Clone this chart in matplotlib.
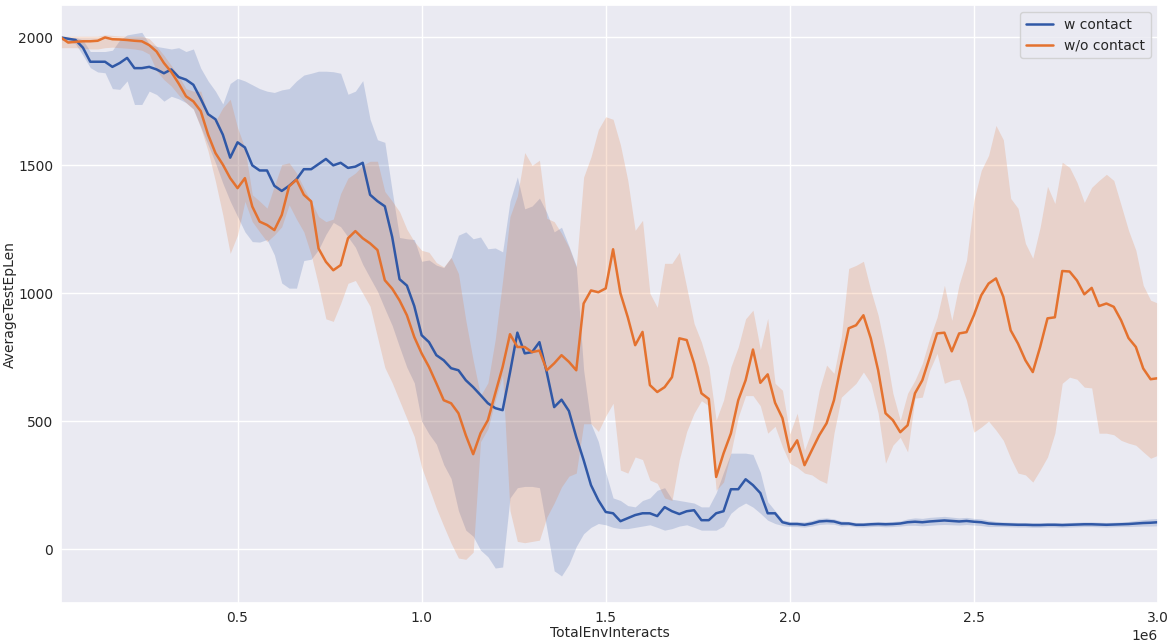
import matplotlib
matplotlib.use("Agg")
import matplotlib.pyplot as plt
import numpy as np
import seaborn as sns

# 150 evaluation epochs, 20k env steps each
epochs = np.arange(1, 151)
steps_per_epoch = 20000

w_mean = [2000, 1995, 1990, 1960, 1905, 1905, 1905, 1885, 1900, 1920,
          1880, 1880, 1885, 1875, 1860, 1875, 1845, 1835, 1815, 1760,
          1700, 1680, 1620, 1530, 1590, 1570, 1500, 1480, 1480, 1420,
          1400, 1420, 1445, 1485, 1485, 1505, 1525, 1500, 1510, 1490,
          1495, 1510, 1385, 1360, 1340, 1220, 1055, 1030, 950, 836,
          809, 758, 738, 707, 699, 660, 633, 602, 570, 551,
          543, 690, 846, 765, 770, 809, 690, 555, 584, 540,
          438, 348, 250, 191, 145, 140, 109, 121, 133, 140,
          140, 129, 164, 148, 137, 148, 152, 113, 113, 140,
          148, 234, 234, 273, 250, 219, 140, 140, 105, 98,
          98, 95, 100, 108, 110, 108, 100, 100, 95, 95,
          97, 98, 97, 98, 100, 105, 107, 105, 108, 110,
          112, 110, 108, 110, 107, 105, 100, 98, 97, 96,
          95, 95, 94, 94, 95, 95, 94, 95, 96, 97,
          97, 96, 95, 96, 97, 98, 100, 102, 103, 105]
w_upper = [2000, 2000, 2000, 1990, 1945, 1945, 1945, 1950, 1990, 2010,
           2015, 2020, 1975, 1965, 1960, 1955, 1960, 1945, 1955, 1880,
           1830, 1790, 1740, 1820, 1840, 1830, 1815, 1800, 1790, 1785,
           1795, 1800, 1830, 1853, 1860, 1868, 1868, 1866, 1860, 1778,
           1790, 1831, 1680, 1600, 1590, 1400, 1218, 1213, 1210, 1125,
           1130, 1110, 1100, 1140, 1227, 1240, 1213, 1220, 1174, 1177,
           1162, 1360, 1455, 1330, 1341, 1372, 1315, 1240, 1258, 1185,
           1107, 700, 490, 420, 300, 200, 190, 170, 165, 190,
           200, 230, 240, 195, 190, 185, 180, 165, 165, 220,
           300, 375, 375, 375, 370, 300, 185, 150, 115, 108,
           108, 106, 112, 120, 122, 118, 110, 108, 104, 104,
           106, 108, 107, 108, 110, 118, 122, 120, 124, 126,
           128, 125, 122, 124, 120, 118, 112, 108, 106, 105,
           104, 104, 103, 103, 104, 104, 103, 104, 105, 106,
           106, 105, 104, 105, 106, 108, 112, 115, 118, 120]
w_lower = [1990, 1985, 1975, 1930, 1882, 1865, 1862, 1800, 1797, 1830,
           1738, 1738, 1790, 1777, 1751, 1770, 1760, 1745, 1720, 1650,
           1580, 1510, 1430, 1360, 1300, 1240, 1202, 1200, 1210, 1150,
           1040, 1020, 1020, 1128, 1133, 1171, 1230, 1277, 1260, 1220,
           1180, 1113, 1060, 1008, 940, 874, 790, 710, 650, 500,
           450, 410, 330, 276, 150, 74, 50, -4, -30, -74,
           -70, 200, 240, 245, 245, 240, 80, -85, -105, -60,
           10, 60, 85, 100, 95, 85, 80, 80, 85, 90,
           95, 85, 74, 80, 90, 95, 85, 74, 74, 74,
           90, 140, 164, 180, 164, 140, 113, 100, 92, 88,
           88, 86, 90, 96, 98, 97, 90, 92, 87, 86,
           88, 89, 87, 88, 90, 93, 93, 91, 93, 95,
           96, 95, 94, 96, 94, 92, 88, 88, 88, 87,
           86, 86, 85, 85, 86, 86, 85, 86, 87, 88,
           88, 87, 86, 87, 88, 88, 89, 90, 90, 91]

wo_mean = [2000, 1980, 1983, 1985, 1985, 1987, 2000, 1993, 1992, 1990,
           1987, 1985, 1970, 1945, 1900, 1865, 1820, 1770, 1750, 1712,
           1620, 1548, 1503, 1450, 1411, 1450, 1339, 1280, 1267, 1247,
           1306, 1418, 1444, 1385, 1359, 1175, 1123, 1090, 1110, 1215,
           1243, 1215, 1195, 1169, 1051, 1018, 972, 914, 829, 765,
           712, 648, 582, 570, 531, 445, 371, 453, 504, 609,
           712, 840, 790, 790, 770, 776, 699, 726, 758, 732,
           699, 960, 1011, 1004, 1019, 1172, 1000, 906, 797, 849,
           641, 614, 633, 672, 824, 817, 726, 609, 587, 282,
           374, 452, 582, 660, 780, 650, 683, 572, 512, 380,
           425, 328, 387, 445, 492, 582, 726, 863, 875, 914,
           824, 699, 531, 504, 457, 484, 609, 660, 750, 843,
           846, 773, 843, 848, 914, 992, 1038, 1058, 986, 855,
           803, 738, 692, 790, 902, 906, 1087, 1085, 1050, 996,
           1021, 950, 960, 947, 894, 825, 790, 706, 664, 668]
wo_upper = [2005, 2005, 2005, 2005, 2005, 2005, 2010, 2008, 2006, 2005,
            2005, 2005, 1995, 1965, 1930, 1890, 1850, 1800, 1790, 1790,
            1700, 1673, 1725, 1758, 1647, 1568, 1385, 1360, 1333, 1420,
            1503, 1510, 1470, 1412, 1359, 1300, 1280, 1290, 1390, 1450,
            1470, 1500, 1516, 1516, 1398, 1360, 1319, 1250, 1202, 1168,
            1160, 1120, 1103, 1140, 1077, 894, 738, 600, 650, 820,
            1050, 1300, 1380, 1550, 1500, 1520, 1293, 1280, 1234, 1180,
            1102, 1454, 1533, 1640, 1690, 1680, 1580, 1441, 1246, 1285,
            1000, 945, 1117, 1117, 1160, 1023, 882, 809, 712, 504,
            582, 712, 790, 900, 934, 780, 902, 648, 621, 450,
            531, 387, 465, 621, 719, 687, 830, 1097, 1109, 1125,
            1012, 914, 777, 609, 504, 609, 660, 726, 824, 906,
            1031, 894, 1035, 1129, 1363, 1480, 1539, 1656, 1600, 1371,
            1332, 1195, 1137, 1258, 1418, 1351, 1512, 1492, 1434, 1355,
            1414, 1441, 1465, 1441, 1344, 1246, 1168, 1031, 973, 961]
wo_lower = [1960, 1960, 1960, 1958, 1955, 1955, 1960, 1962, 1960, 1958,
            1955, 1950, 1935, 1870, 1835, 1810, 1775, 1745, 1720, 1647,
            1555, 1437, 1306, 1156, 1228, 1359, 1280, 1240, 1202, 1228,
            1260, 1346, 1290, 1240, 1150, 1031, 900, 890, 960, 1039,
            1050, 1000, 949, 829, 710, 650, 580, 510, 440, 320,
            240, 160, 90, 23, -35, -40, -12, 420, 470, 580,
            680, 150, 30, 25, 30, 35, 125, 180, 243, 285,
            297, 490, 490, 460, 520, 570, 309, 297, 360, 350,
            270, 257, 200, 190, 350, 460, 531, 580, 560, 230,
            262, 375, 516, 600, 600, 560, 453, 480, 400, 335,
            320, 297, 290, 270, 257, 453, 594, 621, 648, 692,
            648, 531, 336, 406, 437, 380, 590, 594, 699, 765,
            648, 660, 664, 582, 457, 477, 500, 465, 425, 355,
            297, 290, 262, 309, 360, 453, 648, 672, 664, 633,
            630, 453, 453, 447, 425, 414, 406, 380, 355, 367]

labels = ["w contact", "w/o contact"]
colors = ["#3058a6", "#e4722f"]

sns.set_theme(style="darkgrid")
plt.rcParams['font.family'] = ['DejaVu Sans']

fig, ax = plt.subplots(figsize=(11.7, 6.43), dpi=100)
x = epochs * steps_per_epoch

series = [(w_mean, w_lower, w_upper), (wo_mean, wo_lower, wo_upper)]
for (m, lo, hi), lab, col in zip(series, labels, colors):
    ax.fill_between(x, lo, hi, color=col, alpha=0.2, linewidth=0)
    ax.plot(x, m, color=col, linewidth=1.8, label=lab)

ax.set_xlim(x[0], x[-1])
ax.set_xlabel("TotalEnvInteracts", fontsize=10, labelpad=1)
ax.set_ylabel("AverageTestEpLen", fontsize=10, labelpad=1)
ax.tick_params(labelsize=10, length=0, pad=5.5)
ax.xaxis.get_offset_text().set_fontsize(10)
ax.legend(loc="upper right", fontsize=10)

plt.subplots_adjust(left=0.052, right=0.9897, top=0.992, bottom=0.062)
fig.savefig("out.png", dpi=100)
